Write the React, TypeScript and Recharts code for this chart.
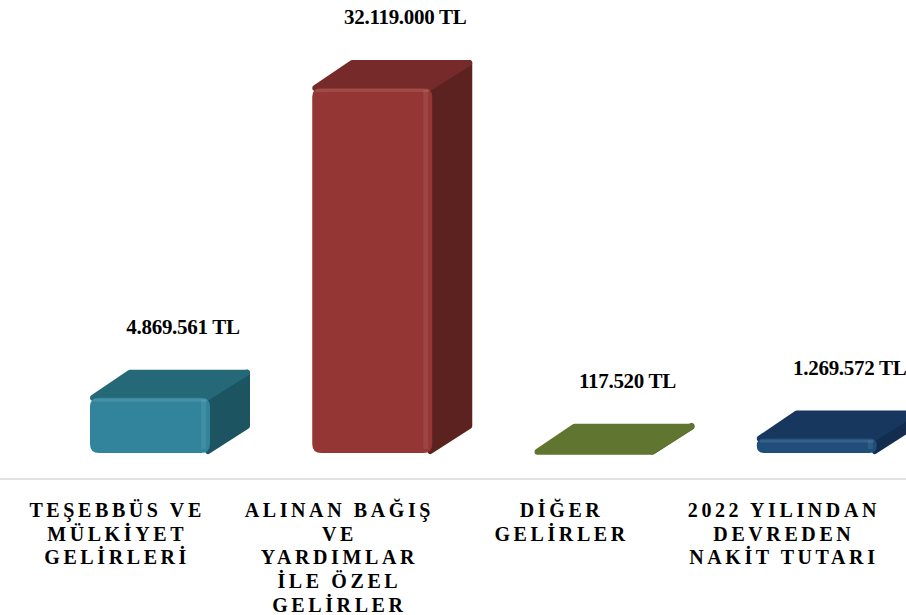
import { BarChart, Bar, XAxis, YAxis, LabelList } from "recharts";

const CATEGORIES = [
  ["TEŞEBBÜS VE", "MÜLKİYET", "GELİRLERİ"],
  ["ALINAN BAĞIŞ", "VE", "YARDIMLAR", "İLE ÖZEL", "GELİRLER"],
  ["DİĞER", "GELİRLER"],
  ["2022 YILINDAN", "DEVREDEN", "NAKİT TUTARI"],
];
const VALUES = [4869561, 32119000, 117520, 1269572];
const Y_DOMAIN: [number, number] = [-2290000, 32119000];

// front / top / side shades per bar
const PALETTE = [
  { front: "#31849b", top: "#256878", side: "#1d5461" },
  { front: "#943634", top: "#762b2a", side: "#5c2220" },
  { front: "#58702e", top: "#5f7530", side: "#4b5e25" },
  { front: "#1f4e7a", top: "#17375e", side: "#122d4e" },
];

const data = CATEGORIES.map((lines, i) => ({ name: lines.join(" "), lines, value: VALUES[i] }));

const fmt = (v: number) => String(v).replace(/\B(?=(\d{3})+(?!\d))/g, ".") + " TL";

const SHIFT = 35, DX = 40, DY = -27;

function Box3D(props: any) {
  const { x, y, width, height, index } = props;
  const c = PALETTE[index];
  const fx = x + SHIFT, fw = width, top = y, bot = y + height;
  const r = Math.min(9, height / 2);
  const front = `M${fx + r},${top} H${fx + fw - r} Q${fx + fw},${top} ${fx + fw},${top + r} V${bot - r} Q${fx + fw},${bot} ${fx + fw - r},${bot} H${fx + r} Q${fx},${bot} ${fx},${bot - r} V${top + r} Q${fx},${top} ${fx + r},${top} Z`;
  const side = `M${fx + fw - 2},${top} L${fx + fw + DX - 3},${top + DY + 2} L${fx + fw + DX - 3},${bot + DY} L${fx + fw - 2},${bot - 2} Z`;
  const topFace = `M${fx + 3},${top} L${fx + DX},${top + DY + 2} L${fx + fw + DX - 3},${top + DY + 2} L${fx + fw - 3},${top} Z`;
  return (
    <g>
      <path d={side} fill={c.side} stroke={c.side} strokeWidth={6} strokeLinejoin="round" />
      <path d={topFace} fill={c.top} stroke={c.top} strokeWidth={6} strokeLinejoin="round" />
      {height > 2 && <path d={front} fill={c.front} />}
      {height > 6 && (
        <>
          <rect x={fx + 3} y={top + 1} width={fw - 6} height={3} fill="#ffffff" opacity={0.1} />
          <rect x={fx + fw - 9} y={top + 2} width={5} height={Math.max(0, height - 6)} fill="#ffffff" opacity={0.08} />
        </>
      )}
    </g>
  );
}

function ValueLabel(props: any) {
  const { x, y, value } = props;
  return (
    <text x={x + 128} y={y - 64} textAnchor="middle" fontFamily="'Liberation Serif', serif" fontWeight="bold" fontSize={21} letterSpacing={-0.3} fill="#000">
      {fmt(value)}
    </text>
  );
}

function CategoryTick(props: any) {
  const { x, y, index } = props;
  const lines = CATEGORIES[index];
  return (
    <text x={x + 2} y={y} textAnchor="middle" fontFamily="'Liberation Serif', serif" fontWeight="bold" fontSize={20} letterSpacing={3.6} fill="#000">
      {lines.map((l, i) => (
        <tspan key={i} x={x + 2} dy={i === 0 ? 30 : 23.7}>{l}</tspan>
      ))}
    </text>
  );
}

export default function App() {
  return (
    <div style={{ position: "fixed", left: 0, top: 0, width: 906, height: 615, background: "#fff" }}>
      <BarChart width={906} height={615} data={data} margin={{ top: 88, right: 0, left: 0, bottom: 0 }}>
        <XAxis
          dataKey="name"
          height={136}
          padding={{ left: 4, right: 13 }}
          axisLine={{ stroke: "#d9d9d9", strokeWidth: 1.5 }}
          tickLine={false}
          interval={0}
          tick={<CategoryTick />}
        />
        <YAxis hide domain={Y_DOMAIN} />
        <Bar dataKey="value" barSize={120} shape={<Box3D />} isAnimationActive={false}>
          <LabelList dataKey="value" content={<ValueLabel />} />
        </Bar>
      </BarChart>
    </div>
  );
}
